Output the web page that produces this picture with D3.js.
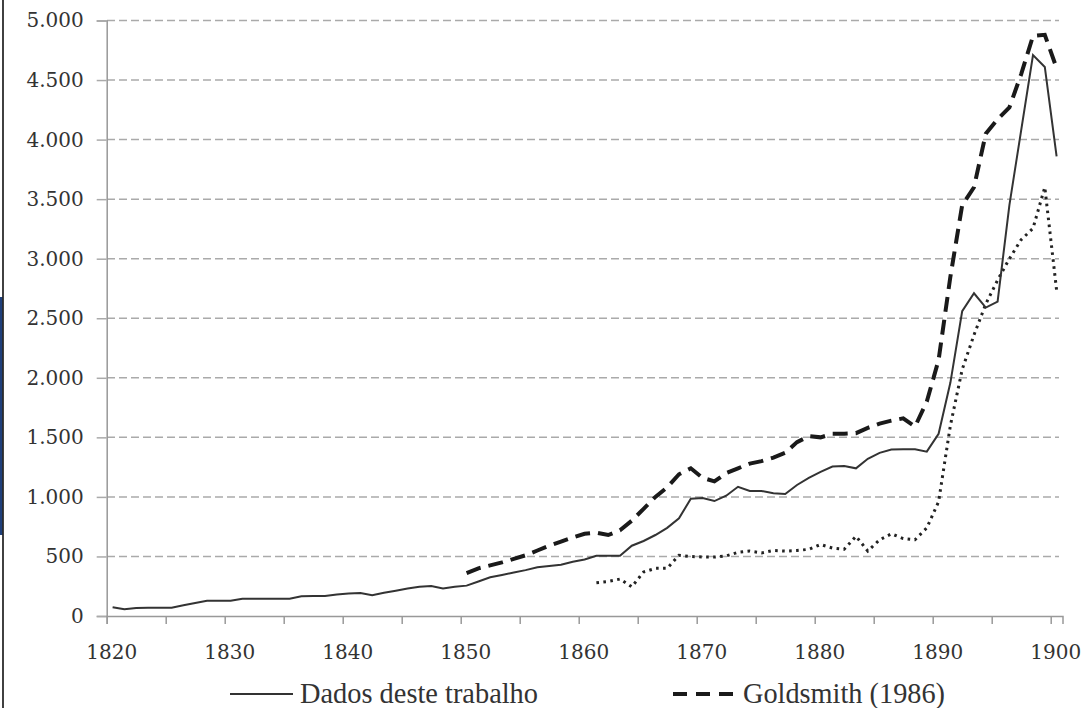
<!DOCTYPE html>
<html>
<head>
<meta charset="utf-8">
<script src="https://cdn.jsdelivr.net/npm/d3@7"></script>
<style>
  html, body { margin: 0; padding: 0; background: #fff; }
  svg { display: block; }
</style>
</head>
<body>
<svg id="chart" width="1091" height="708"></svg>
<script>
// Years (categories)
const anos = d3.range(1820, 1901);

// Dados deste trabalho, 1820-1900
const dadosTrabalho = [
  73, 56, 68, 70, 70, 70, 90, 110, 128, 128,
  128, 145, 145, 145, 145, 145, 165, 168, 168, 180,
  188, 193, 175, 195, 212, 230, 245, 252, 232, 245,
  255, 290, 325, 345, 365, 385, 410, 420, 430, 455,
  475, 505, 506, 506, 590, 630, 680, 740, 820, 985,
  990, 965, 1010, 1085, 1050, 1050, 1030, 1025, 1100, 1160,
  1210, 1255, 1260, 1240, 1320, 1370, 1398, 1400, 1400, 1380,
  1530, 1960, 2560, 2710, 2590, 2640, 3450, 4080, 4710, 4610,
  3860
];

// Goldsmith (1986), 1850-1900
const goldsmithInicio = 1850;
const goldsmith = [
  360, 400, 425, 450, 480, 510, 550, 590, 625, 660,
  690, 700, 680, 720, 800, 900, 1000, 1080, 1190, 1240,
  1160, 1130, 1200, 1240, 1280, 1300, 1330, 1370, 1460, 1510,
  1500, 1530, 1530, 1535, 1580, 1615, 1640, 1660, 1590, 1800,
  2150, 2850, 3450, 3600, 4050, 4170, 4270, 4550, 4870, 4880,
  4600
];

// third (dotted) series, 1861-1900
const pontilhadoInicio = 1861;
const pontilhado = [
  280, 290, 310, 245, 370, 400, 400, 510, 500,
  495, 495, 505, 535, 545, 530, 550, 545, 550, 560,
  600, 570, 560, 670, 545, 640, 690, 650, 640, 740,
  960, 1600, 2070, 2360, 2620, 2820, 3000, 3160, 3255, 3600,
  2735
];

const yTicks = [0, 500, 1000, 1500, 2000, 2500, 3000, 3500, 4000, 4500, 5000];
const xTicks = d3.range(1820, 1901, 5);
const xLabels = [1820, 1830, 1840, 1850, 1860, 1870, 1880, 1890, 1900];

const svg = d3.select('#chart');
const fmt = d => d3.format(',')(d).replace(/,/g, '.');

// Scales: each year is a category centred between ticks
const x = d3.scaleLinear().domain([1820, 1901]).range([106.7, 1062.5]);
const y = d3.scaleLinear().domain([0, 5000]).range([616, 20.5]);
const xc = yr => x(yr + 0.5);

// left frame edge
svg.append('rect').attr('x', 0).attr('y', 297).attr('width', 2.5).attr('height', 238).attr('fill', '#1f3f7a');
svg.append('line').attr('x1', 3).attr('x2', 3).attr('y1', 0).attr('y2', 708)
  .attr('stroke', '#111').attr('stroke-width', 1.6);

// gridlines
svg.append('g').selectAll('line').data(yTicks.filter(d => d > 0)).join('line')
  .attr('x1', 107).attr('x2', 1059)
  .attr('y1', d => y(d)).attr('y2', d => y(d))
  .attr('stroke', '#aaa').attr('stroke-width', 1.5)
  .attr('stroke-dasharray', '8,4');

// y axis
const yAxis = svg.append('g').attr('transform', `translate(${x(1820)},0)`)
  .call(d3.axisLeft(y).tickValues(yTicks).tickSize(10).tickPadding(13).tickFormat(fmt));
yAxis.select('.domain').attr('stroke', '#999').attr('stroke-width', 1.5);
yAxis.selectAll('.tick line').attr('stroke', '#aaa').attr('stroke-width', 1.5);
yAxis.selectAll('.tick text')
  .attr('font-family', '"DejaVu Serif", serif').attr('font-size', 20).attr('fill', '#333');

// x axis
const xAxis = svg.append('g').attr('transform', `translate(0,${y(0)})`)
  .call(d3.axisBottom(x).tickValues(xTicks).tickSize(8).tickFormat(''));
xAxis.select('.domain').attr('stroke', '#999').attr('stroke-width', 1.5);
xAxis.selectAll('.tick line').attr('stroke', '#999').attr('stroke-width', 1.5);
svg.append('g').selectAll('text').data(xLabels).join('text')
  .attr('x', d => x(d) + 5).attr('y', 659)
  .attr('text-anchor', 'middle')
  .attr('font-family', '"DejaVu Serif", serif').attr('font-size', 20).attr('fill', '#333')
  .text(d => d);

// series
const linha = d3.line().x(d => xc(d.ano)).y(d => y(d.v));
const serie = (vals, inicio) => vals.map((v, i) => ({ ano: inicio + i, v }));

svg.append('path').datum(serie(pontilhado, pontilhadoInicio))
  .attr('d', linha).attr('fill', 'none')
  .attr('stroke', '#222').attr('stroke-width', 3)
  .attr('stroke-dasharray', '2.6,4.4');

svg.append('path').datum(serie(goldsmith, goldsmithInicio))
  .attr('d', linha).attr('fill', 'none')
  .attr('stroke', '#1a1a1a').attr('stroke-width', 4)
  .attr('stroke-dasharray', '15,8');

svg.append('path').datum(serie(dadosTrabalho, anos[0]))
  .attr('d', linha).attr('fill', 'none')
  .attr('stroke', '#333').attr('stroke-width', 2);

// legend
const leg = svg.append('g');
leg.append('line').attr('x1', 230).attr('x2', 293).attr('y1', 694).attr('y2', 694)
  .attr('stroke', '#333').attr('stroke-width', 2);
leg.append('text').attr('x', 300).attr('y', 703)
  .attr('font-family', '"Liberation Serif", serif').attr('font-size', 29).attr('fill', '#333')
  .attr('textLength', 238).attr('lengthAdjust', 'spacingAndGlyphs')
  .text('Dados deste trabalho');
leg.append('line').attr('x1', 673).attr('x2', 740).attr('y1', 694).attr('y2', 694)
  .attr('stroke', '#1a1a1a').attr('stroke-width', 4).attr('stroke-dasharray', '14,9');
leg.append('text').attr('x', 743).attr('y', 703)
  .attr('font-family', '"Liberation Serif", serif').attr('font-size', 29).attr('fill', '#333')
  .attr('textLength', 202).attr('lengthAdjust', 'spacingAndGlyphs')
  .text('Goldsmith (1986)');
</script>
</body>
</html>
